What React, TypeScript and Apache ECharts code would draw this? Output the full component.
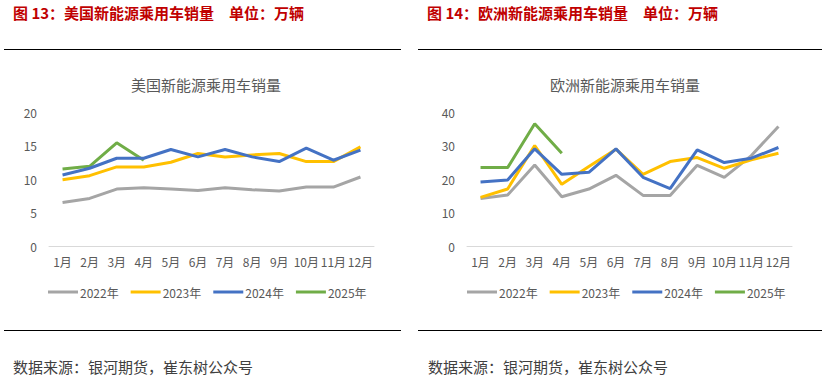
import React, { useEffect, useRef } from "react";
import * as echarts from "echarts";

const months = ["1月", "2月", "3月", "4月", "5月", "6月", "7月", "8月", "9月", "10月", "11月", "12月"];
const seriesNames = ["2022年", "2023年", "2024年", "2025年"];
const colors = ["#A5A5A5", "#FFC000", "#4472C4", "#70AD47"];

const us2022 = [6.5, 7.1, 8.5, 8.7, 8.5, 8.3, 8.7, 8.4, 8.2, 8.8, 8.8, 10.3];
const us2023 = [9.9, 10.5, 11.8, 11.8, 12.5, 13.8, 13.3, 13.6, 13.8, 12.6, 12.6, 14.8];
const us2024 = [10.6, 11.6, 13.1, 13.1, 14.4, 13.3, 14.4, 13.3, 12.6, 14.6, 12.8, 14.3];
const us2025 = [11.5, 11.9, 15.4, 12.8];

const eu2022 = [14.2, 15.2, 24.2, 14.7, 17.0, 21.1, 15.1, 15.1, 24.1, 20.5, 27.0, 35.7];
const eu2023 = [14.5, 17.0, 30.0, 18.4, 23.7, 28.9, 21.4, 25.2, 26.4, 23.2, 25.7, 27.7];
const eu2024 = [19.1, 19.7, 29.0, 21.4, 22.0, 29.0, 20.5, 17.1, 28.7, 24.9, 26.2, 29.4];
const eu2025 = [23.4, 23.4, 36.5, 27.7];

const font = "'Noto Sans CJK SC', 'Noto Sans', sans-serif";
const textColor = "#595959";

export default function App() {
  const ref = useRef<HTMLDivElement>(null);
  useEffect(() => {
    if (!ref.current) return;
    const chart = echarts.init(ref.current, null, { renderer: "svg" });
    const usData = [us2022, us2023, us2024, us2025];
    const euData = [eu2022, eu2023, eu2024, eu2025];
    const mkSeries = (data: number[][], idx: number) =>
      data.map((d, i) => ({
        name: seriesNames[i],
        type: "line",
        xAxisIndex: idx,
        yAxisIndex: idx,
        data: d,
        symbol: "none",
        lineStyle: { width: 3, color: colors[i] },
        itemStyle: { color: colors[i] },
        z: i === 3 ? 1 : 2 + i,
      }));
    const xAxis = (gi: number) => ({
      type: "category",
      gridIndex: gi,
      data: months,
      boundaryGap: true,
      axisLine: { lineStyle: { color: "#D9D9D9", width: 1 } },
      axisTick: { show: false },
      axisLabel: { color: textColor, fontSize: 12, fontFamily: font, margin: 9, interval: 0 },
    });
    const yAxis = (gi: number, max: number, interval: number) => ({
      type: "value",
      gridIndex: gi,
      min: 0,
      max,
      interval,
      axisLine: { show: false },
      axisTick: { show: false },
      splitLine: { show: false },
      axisLabel: { color: textColor, fontSize: 12, fontFamily: font, margin: 12 },
    });
    const legend = (cx: number) => ({
      data: seriesNames,
      left: cx,
      top: 281,
      icon: "rect",
      itemWidth: 30,
      itemHeight: 3,
      itemGap: 12,
      textStyle: { color: textColor, fontSize: 12, fontFamily: font, padding: [0, 0, 0, -3] },
    });
    const header = (x: number, text: string) => ({
      type: "text",
      left: x,
      top: 5,
      style: { text, fill: "#C00000", font: `bold 15px ${font}` },
    });
    const hline = (x1: number, x2: number, y: number) => ({
      type: "line",
      shape: { x1, y1: y, x2, y2: y },
      style: { stroke: "#000", lineWidth: 1 },
    });
    const source = (x: number) => ({
      type: "text",
      left: x,
      top: 359,
      style: { text: "数据来源：银河期货，崔东树公众号", fill: "#404040", font: `15px ${font}` },
    });
    const chartTitle = (text: string, cx: number) => ({
      text,
      left: cx,
      top: 72,
      textAlign: "center",
      textStyle: { color: textColor, fontSize: 15, fontWeight: "normal", fontFamily: font },
    });
    chart.setOption({
      animation: false,
      backgroundColor: "#fff",
      title: [chartTitle("美国新能源乘用车销量", 201), chartTitle("欧洲新能源乘用车销量", 620)],
      legend: [legend(43), legend(462)],
      grid: [
        { left: 49, width: 325, top: 112, height: 134 },
        { left: 467, width: 325, top: 112, height: 134 },
      ],
      xAxis: [xAxis(0), xAxis(1)],
      yAxis: [yAxis(0, 20, 5), yAxis(1, 40, 10)],
      series: [...mkSeries(usData, 0), ...mkSeries(euData, 1)],
      graphic: [
        header(13, "图 13：美国新能源乘用车销量　单位：万辆"),
        header(427, "图 14：欧洲新能源乘用车销量　单位：万辆"),
        hline(4, 401, 49.5),
        hline(418, 822, 49.5),
        hline(4, 401, 330.5),
        hline(418, 822, 330.5),
        source(13),
        source(428),
      ],
    });
    return () => chart.dispose();
  }, []);
  return (
    <div
      ref={ref}
      style={{ position: "absolute", left: 0, top: 0, width: 826, height: 386 }}
    />
  );
}
